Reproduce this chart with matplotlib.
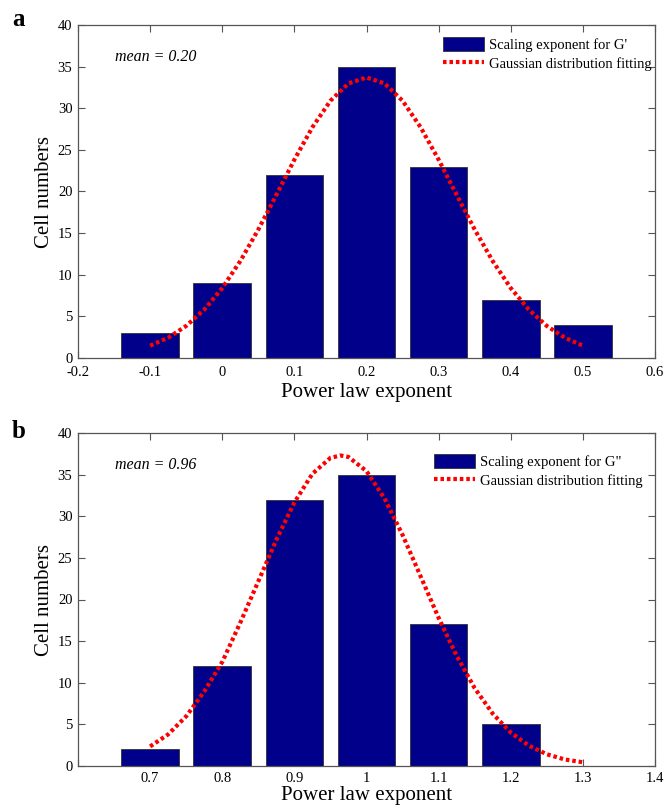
import matplotlib
matplotlib.use("Agg")
import matplotlib.pyplot as plt
from matplotlib.patches import Patch
from matplotlib.lines import Line2D

plt.rcParams['font.family'] = ['Liberation Serif', 'DejaVu Serif']

# ---- Panel a data ----
a_centers = [-0.1, 0.0, 0.1, 0.2, 0.3, 0.4, 0.5]
a_counts = [3, 9, 22, 35, 23, 7, 4]
a_fit_x = [-0.100, -0.075, -0.050, -0.025, 0.000, 0.025, 0.050, 0.075, 0.100,
           0.125, 0.150, 0.175, 0.200, 0.225, 0.250, 0.275, 0.300, 0.325,
           0.350, 0.375, 0.400, 0.425, 0.450, 0.475, 0.500]
a_fit_y = [1.48, 2.44, 3.85, 5.81, 8.40, 11.64, 15.43, 19.59, 23.82,
           27.72, 30.90, 32.98, 33.70, 32.98, 30.90, 27.72, 23.82, 19.59,
           15.43, 11.64, 8.40, 5.81, 3.85, 2.44, 1.48]
a_xticks = [-0.2, -0.1, 0, 0.1, 0.2, 0.3, 0.4, 0.5, 0.6]
a_xticklabels = ['-0.2', '-0.1', '0', '0.1', '0.2', '0.3', '0.4', '0.5', '0.6']
a_legend = ["Scaling exponent for G'", "Gaussian distribution fitting"]
a_mean = "mean = 0.20"

# ---- Panel b data ----
b_centers = [0.7, 0.8, 0.9, 1.0, 1.1, 1.2]
b_counts = [2, 12, 32, 35, 17, 5]
b_fit_x = [0.700, 0.725, 0.750, 0.775, 0.800, 0.825, 0.850, 0.875, 0.900,
           0.925, 0.950, 0.964, 0.975, 1.000, 1.025, 1.050, 1.075, 1.100,
           1.125, 1.150, 1.175, 1.200, 1.225, 1.250, 1.275, 1.300]
b_fit_y = [2.35, 3.80, 5.97, 8.94, 12.50, 17.22, 22.18, 27.17, 31.66,
           35.10, 37.01, 37.30, 37.12, 35.42, 32.14, 27.75, 22.79, 17.80,
           13.23, 9.35, 6.29, 4.02, 2.45, 1.41, 0.78, 0.45]
b_xticks = [0.6, 0.7, 0.8, 0.9, 1.0, 1.1, 1.2, 1.3, 1.4]
b_xticklabels = ['', '0.7', '0.8', '0.9', '1', '1.1', '1.2', '1.3', '1.4']
b_legend = ['Scaling exponent for G"', "Gaussian distribution fitting"]
b_mean = "mean = 0.96"

yticks = [0, 5, 10, 15, 20, 25, 30, 35, 40]

BAR = '#00008B'
RED = '#FF0000'
SPINE = '#555555'
DOTS = (0, (0.85, 0.7))

W, H = 667, 810
fig = plt.figure(figsize=(W / 100, H / 100), dpi=100)


def make_axes(top_px, bottom_px):
    left, right = 78, 655
    return fig.add_axes([left / W, 1 - bottom_px / H, (right - left) / W,
                         (bottom_px - top_px) / H])


def draw_panel(ax, centers, counts, fx, fy, xlim, xticks, xtl, legend,
               mean_txt, letter, letter_y, leg_anchor, xpad, xlabelpad):
    ax.bar(centers, counts, width=0.08, color=BAR, edgecolor='#333333',
           linewidth=0.6, zorder=2)
    ax.plot(fx, fy, color=RED, linewidth=3.0, linestyle=DOTS,
            dash_capstyle='butt', zorder=3)
    ax.set_xlim(*xlim)
    ax.set_ylim(0, 40)
    ax.set_xticks(xticks)
    ax.set_xticklabels(xtl)
    ax.set_yticks(yticks)
    ax.tick_params(direction='in', top=True, right=True, length=5,
                   width=0.8, color=SPINE, labelsize=10.5, pad=4)
    ax.tick_params(axis='x', pad=xpad)
    for s in ax.spines.values():
        s.set_color(SPINE)
        s.set_linewidth(0.9)
    ax.set_ylabel('Cell numbers', fontsize=15, labelpad=3)
    ax.set_xlabel('Power law exponent', fontsize=15, labelpad=xlabelpad)
    ax.text(0.064, 0.904, mean_txt, transform=ax.transAxes, fontsize=11.5,
            style='italic', ha='left', va='center')
    fig.text(12 / W, 1 - letter_y / H, letter, fontsize=18,
             fontweight='bold', ha='left', va='center')
    handles = [Patch(facecolor=BAR, edgecolor='#333333', linewidth=0.6),
               Line2D([0], [0], color=RED, linewidth=3.0, linestyle=DOTS)]
    ax.legend(handles, legend, loc='upper left', bbox_to_anchor=leg_anchor,
              frameon=False, fontsize=10.5, handlelength=2.8,
              handleheight=1.1, handletextpad=0.35, labelspacing=0.3,
              borderpad=0.0, borderaxespad=0.0)


ax_a = make_axes(25, 358)
draw_panel(ax_a, a_centers, a_counts, a_fit_x, a_fit_y, (-0.2, 0.6),
           a_xticks, a_xticklabels, a_legend, a_mean, 'a', 20,
           ((443 - 78) / 577, 1 - (37 - 25) / 333), 5.5, 3)

ax_b = make_axes(433, 766)
draw_panel(ax_b, b_centers, b_counts, b_fit_x, b_fit_y, (0.6, 1.4),
           b_xticks, b_xticklabels, b_legend, b_mean, 'b', 432,
           ((434 - 78) / 577, 1 - (454 - 433) / 333), 4.5, 0.5)

fig.savefig('out.png', dpi=100)
